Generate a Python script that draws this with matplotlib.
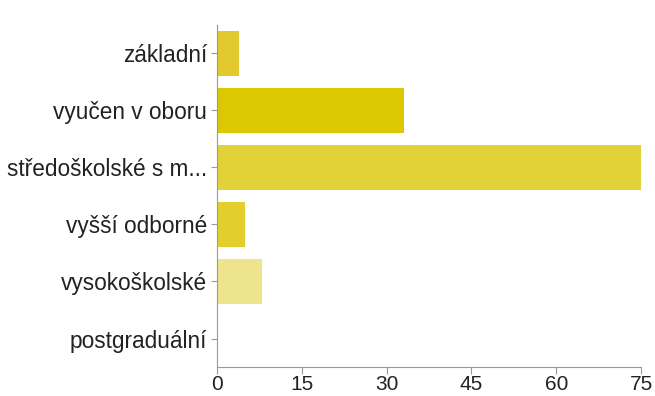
import matplotlib
matplotlib.use("Agg")
import matplotlib.pyplot as plt

categories = [
    "základní",
    "vyučen v oboru",
    "středoškolské s m...",
    "vyšší odborné",
    "vysokoškolské",
    "postgraduální",
]
counts = [4, 33, 75, 5, 8, 0]
bar_colors = ["#e2c92e", "#dcc800", "#e3d13a", "#e3cf2c", "#ede48c", "#e3d13a"]
x_ticks = [0, 15, 30, 45, 60, 75]

plt.rcParams["font.family"] = ["Liberation Sans", "DejaVu Sans"]

fig = plt.figure(figsize=(6.55, 3.96), dpi=100)
ax = fig.add_axes([0.331, 0.0732, 0.648, 0.864])

positions = list(range(len(categories)))
ax.barh(positions, counts, height=0.78, color=bar_colors, zorder=2)

ax.set_ylim(len(categories) - 0.5, -0.5)
ax.set_xlim(0, 75)
ax.set_yticks(positions)
ax.set_yticklabels(categories, fontsize=16.3, color="#222222")
ax.set_xticks(x_ticks)
ax.set_xticklabels([str(t) for t in x_ticks], fontsize=15, color="#222222")

for side in ("top", "right"):
    ax.spines[side].set_visible(False)
for side in ("left", "bottom"):
    ax.spines[side].set_color("#999999")
    ax.spines[side].set_linewidth(0.8)

ax.tick_params(axis="y", length=4, width=0.8, color="#999999", pad=3)
ax.tick_params(axis="x", length=5, width=0.8, color="#999999", pad=1)

fig.savefig("out.png", dpi=100)
